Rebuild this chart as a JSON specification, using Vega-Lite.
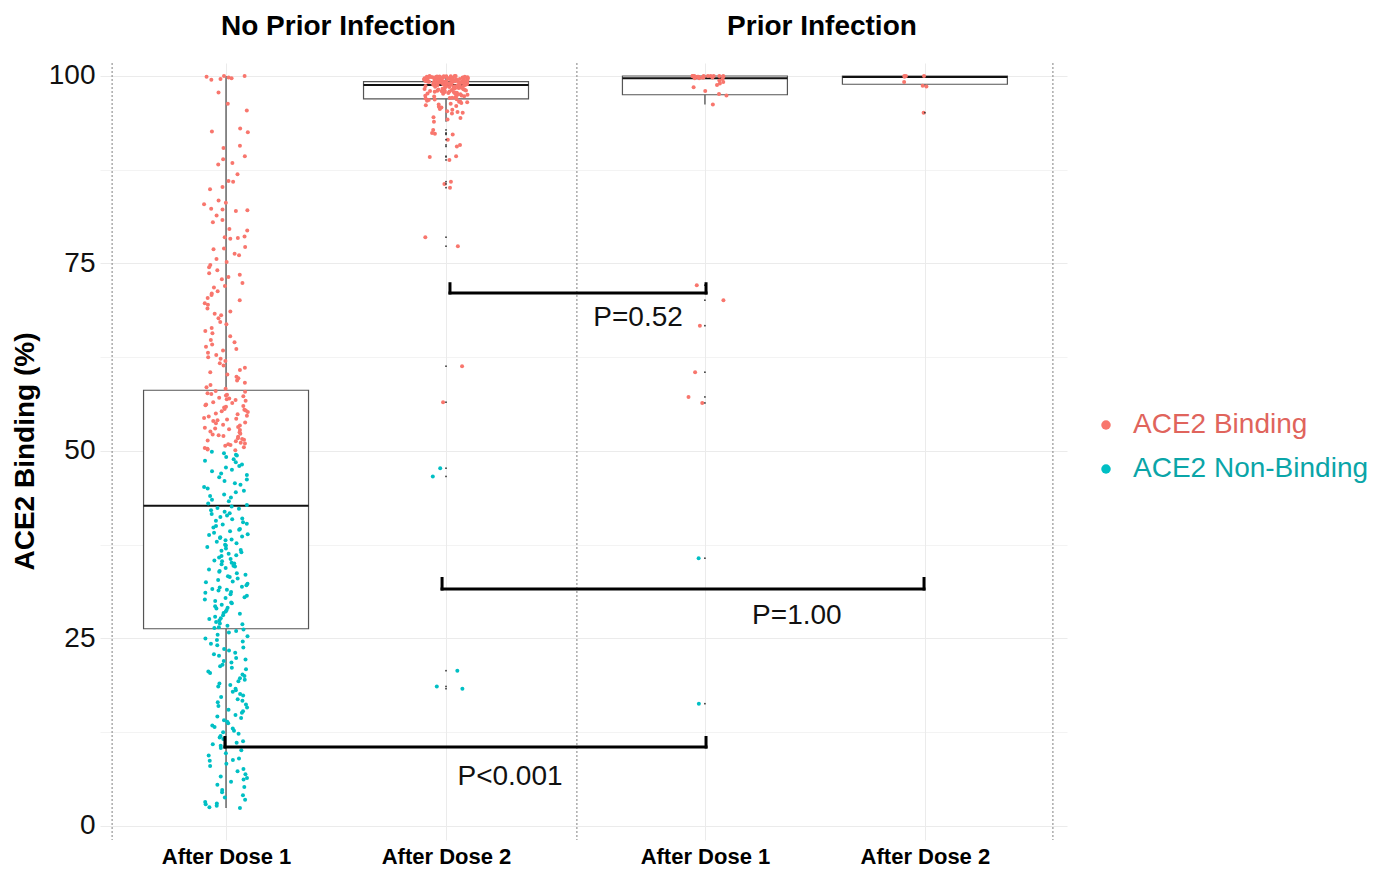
{
  "$schema": "https://vega.github.io/schema/vega-lite/v6.json",
  "width": 967,
  "height": 777,
  "autosize": {"type": "none"},
  "padding": {"left": 100, "top": 63, "right": 323, "bottom": 32},
  "config": {"view": {"stroke": null}, "font": "Liberation Sans"},
  "datasets": {
    "boxes": [
      {"group": "NPI1", "q1": 26.3, "med": 42.7, "q3": 58.1, "lo": 2.4, "hi": 100},
      {"group": "NPI2", "q1": 96.95, "med": 98.8, "q3": 99.25, "lo": 93.9, "hi": 100},
      {"group": "PI1", "q1": 97.5, "med": 99.7, "q3": 100, "lo": 96.2, "hi": 100},
      {"group": "PI2", "q1": 98.9, "med": 99.85, "q3": 100, "lo": 98.6, "hi": 100}
    ],
    "brackets": [
      {"label": "P=0.52", "x1": 2.018, "x2": 3.182, "y": 71.07, "ytop": 72.3, "lx": 2.873, "ly": 66.67},
      {"label": "P=1.00", "x1": 1.982, "x2": 4.173, "y": 31.6, "ytop": 33.0, "lx": 3.595, "ly": 26.93},
      {"label": "P<0.001", "x1": 0.995, "x2": 3.182, "y": 10.53, "ytop": 11.8, "lx": 2.291, "ly": 5.47}
    ],
    "points": [
      {"group":"NPI1","pct":100},{"group":"NPI1","pct":99.9},{"group":"NPI1","pct":99.8},{"group":"NPI1","pct":99.6},{"group":"NPI1","pct":100},{"group":"NPI1","pct":99.7},{"group":"NPI1","pct":99.5},
      {"group":"NPI1","pct":97.8},{"group":"NPI1","pct":96.3},{"group":"NPI1","pct":95.4},{"group":"NPI1","pct":93.0},{"group":"NPI1","pct":92.6},{"group":"NPI1","pct":92.5},{"group":"NPI1","pct":90.7},{"group":"NPI1","pct":90.4},{"group":"NPI1","pct":89.3},{"group":"NPI1","pct":88.9},
      {"group":"NPI1","pct":88.4},{"group":"NPI1","pct":88.2},{"group":"NPI1","pct":86.9},{"group":"NPI1","pct":86.0},{"group":"NPI1","pct":85.9},{"group":"NPI1","pct":85.2},{"group":"NPI1","pct":84.9},{"group":"NPI1","pct":83.4},{"group":"NPI1","pct":83.1},{"group":"NPI1","pct":82.9},
      {"group":"NPI1","pct":82.3},{"group":"NPI1","pct":82.2},{"group":"NPI1","pct":82.1},{"group":"NPI1","pct":82.0},{"group":"NPI1","pct":81.4},{"group":"NPI1","pct":80.8},{"group":"NPI1","pct":80.5},{"group":"NPI1","pct":79.6},{"group":"NPI1","pct":79.4},{"group":"NPI1","pct":78.6},
      {"group":"NPI1","pct":78.5},{"group":"NPI1","pct":78.4},{"group":"NPI1","pct":78.3},{"group":"NPI1","pct":77.2},{"group":"NPI1","pct":77.0},{"group":"NPI1","pct":76.9},{"group":"NPI1","pct":76.3},{"group":"NPI1","pct":76.1},{"group":"NPI1","pct":75.6},{"group":"NPI1","pct":75.2},
      {"group":"NPI1","pct":74.8},{"group":"NPI1","pct":74.5},{"group":"NPI1","pct":74.1},{"group":"NPI1","pct":73.7},{"group":"NPI1","pct":73.5},{"group":"NPI1","pct":73.2},{"group":"NPI1","pct":72.9},{"group":"NPI1","pct":72.4},{"group":"NPI1","pct":72.0},{"group":"NPI1","pct":71.8},
      {"group":"NPI1","pct":71.3},{"group":"NPI1","pct":71.0},{"group":"NPI1","pct":70.8},{"group":"NPI1","pct":70.4},{"group":"NPI1","pct":70.1},{"group":"NPI1","pct":69.7},{"group":"NPI1","pct":69.5},{"group":"NPI1","pct":69.0},{"group":"NPI1","pct":68.6},{"group":"NPI1","pct":68.3},
      {"group":"NPI1","pct":68.1},{"group":"NPI1","pct":67.7},{"group":"NPI1","pct":67.2},{"group":"NPI1","pct":66.9},{"group":"NPI1","pct":66.4},{"group":"NPI1","pct":66.0},{"group":"NPI1","pct":65.7},{"group":"NPI1","pct":65.3},{"group":"NPI1","pct":64.8},{"group":"NPI1","pct":64.5},
      {"group":"NPI1","pct":64.2},{"group":"NPI1","pct":63.9},{"group":"NPI1","pct":63.6},{"group":"NPI1","pct":63.4},{"group":"NPI1","pct":63.1},{"group":"NPI1","pct":62.8},{"group":"NPI1","pct":62.5},{"group":"NPI1","pct":62.3},{"group":"NPI1","pct":62.0},{"group":"NPI1","pct":61.7},
      {"group":"NPI1","pct":61.4},{"group":"NPI1","pct":61.1},{"group":"NPI1","pct":60.8},{"group":"NPI1","pct":60.5},{"group":"NPI1","pct":60.2},{"group":"NPI1","pct":59.9},{"group":"NPI1","pct":59.7},{"group":"NPI1","pct":59.4},{"group":"NPI1","pct":59.1},{"group":"NPI1","pct":58.8},
      {"group":"NPI1","pct":58.5},{"group":"NPI1","pct":58.3},
      {"group":"NPI1","pct":58.0},{"group":"NPI1","pct":57.9},{"group":"NPI1","pct":57.7},{"group":"NPI1","pct":57.6},{"group":"NPI1","pct":57.4},{"group":"NPI1","pct":57.3},{"group":"NPI1","pct":57.1},{"group":"NPI1","pct":57.0},{"group":"NPI1","pct":56.8},{"group":"NPI1","pct":56.7},
      {"group":"NPI1","pct":56.5},{"group":"NPI1","pct":56.4},{"group":"NPI1","pct":56.2},{"group":"NPI1","pct":56.1},{"group":"NPI1","pct":55.9},{"group":"NPI1","pct":55.8},{"group":"NPI1","pct":55.6},{"group":"NPI1","pct":55.5},{"group":"NPI1","pct":55.3},{"group":"NPI1","pct":55.2},
      {"group":"NPI1","pct":55.0},{"group":"NPI1","pct":54.9},{"group":"NPI1","pct":54.7},{"group":"NPI1","pct":54.6},{"group":"NPI1","pct":54.4},{"group":"NPI1","pct":54.3},{"group":"NPI1","pct":54.1},{"group":"NPI1","pct":54.0},{"group":"NPI1","pct":53.8},{"group":"NPI1","pct":53.7},
      {"group":"NPI1","pct":53.5},{"group":"NPI1","pct":53.4},{"group":"NPI1","pct":53.2},{"group":"NPI1","pct":53.1},{"group":"NPI1","pct":52.9},{"group":"NPI1","pct":52.8},{"group":"NPI1","pct":52.6},{"group":"NPI1","pct":52.5},{"group":"NPI1","pct":52.3},{"group":"NPI1","pct":52.2},
      {"group":"NPI1","pct":52.0},{"group":"NPI1","pct":51.9},{"group":"NPI1","pct":51.7},{"group":"NPI1","pct":51.6},{"group":"NPI1","pct":51.4},{"group":"NPI1","pct":51.3},{"group":"NPI1","pct":51.1},{"group":"NPI1","pct":51.0},{"group":"NPI1","pct":50.8},{"group":"NPI1","pct":50.7},
      {"group":"NPI1","pct":50.5},{"group":"NPI1","pct":50.4},{"group":"NPI1","pct":50.2},{"group":"NPI1","pct":50.1},{"group":"NPI1","pct":57.5},{"group":"NPI1","pct":56.0},{"group":"NPI1","pct":55.4},{"group":"NPI1","pct":54.2},{"group":"NPI1","pct":53.0},{"group":"NPI1","pct":52.1},
      {"group":"NPI1","pct":51.5},{"group":"NPI1","pct":50.9},{"group":"NPI1","pct":50.3},{"group":"NPI1","pct":56.9},
      {"group":"NPI1","pct":49.9},{"group":"NPI1","pct":49.7},{"group":"NPI1","pct":49.5},{"group":"NPI1","pct":49.4},{"group":"NPI1","pct":49.2},{"group":"NPI1","pct":48.9},{"group":"NPI1","pct":48.7},{"group":"NPI1","pct":48.5},{"group":"NPI1","pct":48.2},{"group":"NPI1","pct":48.0},
      {"group":"NPI1","pct":47.8},{"group":"NPI1","pct":47.5},{"group":"NPI1","pct":47.3},{"group":"NPI1","pct":47.0},{"group":"NPI1","pct":46.8},{"group":"NPI1","pct":46.5},{"group":"NPI1","pct":46.2},{"group":"NPI1","pct":46.0},{"group":"NPI1","pct":45.7},{"group":"NPI1","pct":45.5},
      {"group":"NPI1","pct":45.2},{"group":"NPI1","pct":45.0},{"group":"NPI1","pct":44.7},{"group":"NPI1","pct":44.5},{"group":"NPI1","pct":44.2},{"group":"NPI1","pct":44.0},{"group":"NPI1","pct":43.8},{"group":"NPI1","pct":43.5},{"group":"NPI1","pct":43.3},{"group":"NPI1","pct":43.0},
      {"group":"NPI1","pct":42.8},
      {"group":"NPI1","pct":42.6},{"group":"NPI1","pct":42.4},{"group":"NPI1","pct":42.3},{"group":"NPI1","pct":42.1},{"group":"NPI1","pct":41.9},{"group":"NPI1","pct":41.7},{"group":"NPI1","pct":41.6},{"group":"NPI1","pct":41.4},{"group":"NPI1","pct":41.2},{"group":"NPI1","pct":41.0},
      {"group":"NPI1","pct":40.9},{"group":"NPI1","pct":40.7},{"group":"NPI1","pct":40.5},{"group":"NPI1","pct":40.3},{"group":"NPI1","pct":40.2},{"group":"NPI1","pct":40.0},{"group":"NPI1","pct":39.8},{"group":"NPI1","pct":39.6},{"group":"NPI1","pct":39.5},{"group":"NPI1","pct":39.3},
      {"group":"NPI1","pct":39.1},{"group":"NPI1","pct":38.9},{"group":"NPI1","pct":38.8},{"group":"NPI1","pct":38.6},{"group":"NPI1","pct":38.4},{"group":"NPI1","pct":38.2},{"group":"NPI1","pct":38.1},{"group":"NPI1","pct":37.9},{"group":"NPI1","pct":37.7},{"group":"NPI1","pct":37.5},
      {"group":"NPI1","pct":37.4},{"group":"NPI1","pct":37.2},{"group":"NPI1","pct":37.0},{"group":"NPI1","pct":36.8},{"group":"NPI1","pct":36.7},{"group":"NPI1","pct":36.5},{"group":"NPI1","pct":36.3},{"group":"NPI1","pct":36.1},{"group":"NPI1","pct":36.0},{"group":"NPI1","pct":35.8},
      {"group":"NPI1","pct":35.6},{"group":"NPI1","pct":35.4},{"group":"NPI1","pct":35.3},{"group":"NPI1","pct":35.1},{"group":"NPI1","pct":34.9},{"group":"NPI1","pct":34.7},{"group":"NPI1","pct":34.6},{"group":"NPI1","pct":34.4},{"group":"NPI1","pct":34.2},{"group":"NPI1","pct":34.0},
      {"group":"NPI1","pct":33.9},{"group":"NPI1","pct":33.7},{"group":"NPI1","pct":33.5},{"group":"NPI1","pct":33.3},{"group":"NPI1","pct":33.2},{"group":"NPI1","pct":33.0},{"group":"NPI1","pct":32.8},{"group":"NPI1","pct":32.6},{"group":"NPI1","pct":32.5},{"group":"NPI1","pct":32.3},
      {"group":"NPI1","pct":32.1},{"group":"NPI1","pct":31.9},{"group":"NPI1","pct":31.8},{"group":"NPI1","pct":31.6},{"group":"NPI1","pct":31.4},{"group":"NPI1","pct":31.2},{"group":"NPI1","pct":31.1},{"group":"NPI1","pct":30.9},{"group":"NPI1","pct":30.7},{"group":"NPI1","pct":30.5},
      {"group":"NPI1","pct":30.4},{"group":"NPI1","pct":30.2},{"group":"NPI1","pct":30.0},{"group":"NPI1","pct":29.8},{"group":"NPI1","pct":29.7},{"group":"NPI1","pct":29.5},{"group":"NPI1","pct":29.3},{"group":"NPI1","pct":29.1},{"group":"NPI1","pct":29.0},{"group":"NPI1","pct":28.8},
      {"group":"NPI1","pct":28.6},{"group":"NPI1","pct":28.4},{"group":"NPI1","pct":28.3},{"group":"NPI1","pct":28.1},{"group":"NPI1","pct":27.9},{"group":"NPI1","pct":27.7},{"group":"NPI1","pct":27.6},{"group":"NPI1","pct":27.4},{"group":"NPI1","pct":27.2},{"group":"NPI1","pct":27.0},
      {"group":"NPI1","pct":26.9},{"group":"NPI1","pct":26.7},{"group":"NPI1","pct":26.5},{"group":"NPI1","pct":26.4},{"group":"NPI1","pct":38.5},{"group":"NPI1","pct":35.0},{"group":"NPI1","pct":31.5},
      {"group":"NPI1","pct":26.2},{"group":"NPI1","pct":26.0},{"group":"NPI1","pct":25.8},{"group":"NPI1","pct":25.5},{"group":"NPI1","pct":25.3},{"group":"NPI1","pct":25.0},{"group":"NPI1","pct":24.8},{"group":"NPI1","pct":24.6},{"group":"NPI1","pct":24.3},{"group":"NPI1","pct":24.1},
      {"group":"NPI1","pct":23.8},{"group":"NPI1","pct":23.6},{"group":"NPI1","pct":23.4},{"group":"NPI1","pct":23.1},{"group":"NPI1","pct":22.9},{"group":"NPI1","pct":22.7},{"group":"NPI1","pct":22.4},{"group":"NPI1","pct":22.2},{"group":"NPI1","pct":22.0},{"group":"NPI1","pct":21.8},
      {"group":"NPI1","pct":21.5},{"group":"NPI1","pct":21.3},{"group":"NPI1","pct":21.1},{"group":"NPI1","pct":20.9},{"group":"NPI1","pct":20.6},{"group":"NPI1","pct":20.4},{"group":"NPI1","pct":20.2},{"group":"NPI1","pct":20.0},{"group":"NPI1","pct":19.7},{"group":"NPI1","pct":19.5},
      {"group":"NPI1","pct":19.3},{"group":"NPI1","pct":19.0},{"group":"NPI1","pct":18.8},{"group":"NPI1","pct":18.6},{"group":"NPI1","pct":18.3},{"group":"NPI1","pct":18.1},{"group":"NPI1","pct":17.9},{"group":"NPI1","pct":17.6},{"group":"NPI1","pct":17.4},{"group":"NPI1","pct":17.2},
      {"group":"NPI1","pct":16.9},{"group":"NPI1","pct":16.7},{"group":"NPI1","pct":16.5},{"group":"NPI1","pct":16.2},{"group":"NPI1","pct":16.0},{"group":"NPI1","pct":15.8},{"group":"NPI1","pct":15.5},{"group":"NPI1","pct":15.3},{"group":"NPI1","pct":15.1},{"group":"NPI1","pct":14.8},
      {"group":"NPI1","pct":14.6},{"group":"NPI1","pct":14.4},{"group":"NPI1","pct":14.1},{"group":"NPI1","pct":13.9},{"group":"NPI1","pct":13.7},{"group":"NPI1","pct":13.4},{"group":"NPI1","pct":13.2},{"group":"NPI1","pct":13.0},{"group":"NPI1","pct":12.7},{"group":"NPI1","pct":12.5},
      {"group":"NPI1","pct":12.3},{"group":"NPI1","pct":12.0},{"group":"NPI1","pct":11.8},{"group":"NPI1","pct":11.6},{"group":"NPI1","pct":11.3},{"group":"NPI1","pct":11.1},{"group":"NPI1","pct":10.9},{"group":"NPI1","pct":10.7},{"group":"NPI1","pct":10.4},{"group":"NPI1","pct":10.1},
      {"group":"NPI1","pct":9.7},{"group":"NPI1","pct":9.4},{"group":"NPI1","pct":9.0},{"group":"NPI1","pct":8.7},{"group":"NPI1","pct":8.3},{"group":"NPI1","pct":8.0},{"group":"NPI1","pct":7.6},{"group":"NPI1","pct":7.3},{"group":"NPI1","pct":6.9},{"group":"NPI1","pct":6.6},
      {"group":"NPI1","pct":6.2},{"group":"NPI1","pct":5.9},{"group":"NPI1","pct":5.5},{"group":"NPI1","pct":5.2},{"group":"NPI1","pct":4.8},{"group":"NPI1","pct":4.5},{"group":"NPI1","pct":4.1},{"group":"NPI1","pct":3.8},{"group":"NPI1","pct":3.5},{"group":"NPI1","pct":3.2},
      {"group":"NPI1","pct":2.9},{"group":"NPI1","pct":2.7},{"group":"NPI1","pct":2.5},{"group":"NPI1","pct":2.4},{"group":"NPI1","pct":3.0},{"group":"NPI1","pct":6.4},{"group":"NPI1","pct":8.8},

      {"group":"NPI2","pct":94.4},{"group":"NPI2","pct":94.2},{"group":"NPI2","pct":94.5},{"group":"NPI2","pct":93.9},{"group":"NPI2","pct":92.8},{"group":"NPI2","pct":92.3},{"group":"NPI2","pct":92.4},{"group":"NPI2","pct":92.2},{"group":"NPI2","pct":91.5},{"group":"NPI2","pct":90.8},
      {"group":"NPI2","pct":90.6},{"group":"NPI2","pct":89.2},{"group":"NPI2","pct":89.3},{"group":"NPI2","pct":88.8},{"group":"NPI2","pct":85.9},{"group":"NPI2","pct":85.6},{"group":"NPI2","pct":85.1},{"group":"NPI2","pct":78.5},{"group":"NPI2","pct":77.3},{"group":"NPI2","pct":61.3},
      {"group":"NPI2","pct":56.5},{"group":"NPI2","pct":47.7},{"group":"NPI2","pct":46.6},{"group":"NPI2","pct":20.7},{"group":"NPI2","pct":18.3},{"group":"NPI2","pct":18.6},
      {"group":"NPI2","pct":95.0},{"group":"NPI2","pct":95.1},{"group":"NPI2","pct":95.2},{"group":"NPI2","pct":95.3},{"group":"NPI2","pct":95.5},{"group":"NPI2","pct":95.6},{"group":"NPI2","pct":95.8},{"group":"NPI2","pct":95.9},{"group":"NPI2","pct":96.0},{"group":"NPI2","pct":96.1},
      {"group":"NPI2","pct":96.2},{"group":"NPI2","pct":96.3},{"group":"NPI2","pct":96.4},{"group":"NPI2","pct":96.5},{"group":"NPI2","pct":96.55},{"group":"NPI2","pct":96.6},{"group":"NPI2","pct":96.7},{"group":"NPI2","pct":96.8},{"group":"NPI2","pct":96.85},{"group":"NPI2","pct":96.9},
      {"group":"NPI2","pct":97.0},{"group":"NPI2","pct":97.05},
      {"group":"NPI2","pct":97.1},{"group":"NPI2","pct":97.15},{"group":"NPI2","pct":97.2},{"group":"NPI2","pct":97.25},{"group":"NPI2","pct":97.3},{"group":"NPI2","pct":97.35},{"group":"NPI2","pct":97.4},{"group":"NPI2","pct":97.45},{"group":"NPI2","pct":97.5},{"group":"NPI2","pct":97.55},
      {"group":"NPI2","pct":97.6},{"group":"NPI2","pct":97.63},{"group":"NPI2","pct":97.66},{"group":"NPI2","pct":97.7},{"group":"NPI2","pct":97.74},{"group":"NPI2","pct":97.78},{"group":"NPI2","pct":97.8},{"group":"NPI2","pct":97.84},{"group":"NPI2","pct":97.88},{"group":"NPI2","pct":97.9},
      {"group":"NPI2","pct":97.93},{"group":"NPI2","pct":97.96},{"group":"NPI2","pct":98.0},{"group":"NPI2","pct":98.03},{"group":"NPI2","pct":98.06},{"group":"NPI2","pct":98.1},{"group":"NPI2","pct":98.13},{"group":"NPI2","pct":98.16},{"group":"NPI2","pct":98.2},{"group":"NPI2","pct":98.23},
      {"group":"NPI2","pct":98.26},{"group":"NPI2","pct":98.3},{"group":"NPI2","pct":98.33},{"group":"NPI2","pct":98.36},{"group":"NPI2","pct":98.4},{"group":"NPI2","pct":98.43},{"group":"NPI2","pct":98.46},{"group":"NPI2","pct":98.5},{"group":"NPI2","pct":98.52},{"group":"NPI2","pct":98.54},
      {"group":"NPI2","pct":98.56},{"group":"NPI2","pct":98.58},{"group":"NPI2","pct":98.6},{"group":"NPI2","pct":98.62},{"group":"NPI2","pct":98.64},{"group":"NPI2","pct":98.66},{"group":"NPI2","pct":98.68},{"group":"NPI2","pct":98.7},
      {"group":"NPI2","pct":98.72},{"group":"NPI2","pct":98.74},{"group":"NPI2","pct":98.76},{"group":"NPI2","pct":98.78},{"group":"NPI2","pct":98.8},{"group":"NPI2","pct":98.81},{"group":"NPI2","pct":98.83},{"group":"NPI2","pct":98.85},{"group":"NPI2","pct":98.86},{"group":"NPI2","pct":98.88},
      {"group":"NPI2","pct":98.9},{"group":"NPI2","pct":98.91},{"group":"NPI2","pct":98.93},{"group":"NPI2","pct":98.95},{"group":"NPI2","pct":98.96},{"group":"NPI2","pct":98.98},{"group":"NPI2","pct":99.0},{"group":"NPI2","pct":99.01},{"group":"NPI2","pct":99.03},{"group":"NPI2","pct":99.05},
      {"group":"NPI2","pct":99.06},{"group":"NPI2","pct":99.08},{"group":"NPI2","pct":99.1},{"group":"NPI2","pct":99.11},{"group":"NPI2","pct":99.12},{"group":"NPI2","pct":99.14},{"group":"NPI2","pct":99.15},{"group":"NPI2","pct":99.16},{"group":"NPI2","pct":99.18},{"group":"NPI2","pct":99.19},
      {"group":"NPI2","pct":99.2},{"group":"NPI2","pct":99.21},{"group":"NPI2","pct":99.22},{"group":"NPI2","pct":99.23},{"group":"NPI2","pct":99.24},{"group":"NPI2","pct":99.25},{"group":"NPI2","pct":99.26},{"group":"NPI2","pct":99.27},{"group":"NPI2","pct":99.28},{"group":"NPI2","pct":99.29},
      {"group":"NPI2","pct":99.3},{"group":"NPI2","pct":99.3},{"group":"NPI2","pct":99.31},{"group":"NPI2","pct":99.32},{"group":"NPI2","pct":99.33},{"group":"NPI2","pct":99.34},{"group":"NPI2","pct":99.35},
      {"group":"NPI2","pct":99.36},{"group":"NPI2","pct":99.38},{"group":"NPI2","pct":99.4},{"group":"NPI2","pct":99.42},{"group":"NPI2","pct":99.44},{"group":"NPI2","pct":99.45},{"group":"NPI2","pct":99.47},{"group":"NPI2","pct":99.48},{"group":"NPI2","pct":99.5},{"group":"NPI2","pct":99.51},
      {"group":"NPI2","pct":99.53},{"group":"NPI2","pct":99.54},{"group":"NPI2","pct":99.55},{"group":"NPI2","pct":99.57},{"group":"NPI2","pct":99.58},{"group":"NPI2","pct":99.6},{"group":"NPI2","pct":99.61},{"group":"NPI2","pct":99.62},{"group":"NPI2","pct":99.64},{"group":"NPI2","pct":99.65},
      {"group":"NPI2","pct":99.66},{"group":"NPI2","pct":99.68},{"group":"NPI2","pct":99.69},{"group":"NPI2","pct":99.7},{"group":"NPI2","pct":99.71},{"group":"NPI2","pct":99.72},{"group":"NPI2","pct":99.74},{"group":"NPI2","pct":99.75},{"group":"NPI2","pct":99.76},{"group":"NPI2","pct":99.78},
      {"group":"NPI2","pct":99.79},{"group":"NPI2","pct":99.8},{"group":"NPI2","pct":99.81},{"group":"NPI2","pct":99.83},{"group":"NPI2","pct":99.84},{"group":"NPI2","pct":99.85},{"group":"NPI2","pct":99.87},{"group":"NPI2","pct":99.88},{"group":"NPI2","pct":99.9},{"group":"NPI2","pct":99.91},
      {"group":"NPI2","pct":99.92},{"group":"NPI2","pct":99.94},{"group":"NPI2","pct":99.95},{"group":"NPI2","pct":99.96},{"group":"NPI2","pct":99.98},{"group":"NPI2","pct":99.99},{"group":"NPI2","pct":100},{"group":"NPI2","pct":100},

      {"group":"PI1","pct":16.3},{"group":"PI1","pct":35.7},{"group":"PI1","pct":56.4},{"group":"PI1","pct":57.2},{"group":"PI1","pct":60.5},{"group":"PI1","pct":66.7},{"group":"PI1","pct":70.1},{"group":"PI1","pct":72.1},{"group":"PI1","pct":96.2},{"group":"PI1","pct":97.4},
      {"group":"PI1","pct":97.6},{"group":"PI1","pct":98.0},{"group":"PI1","pct":98.5},{"group":"PI1","pct":98.8},{"group":"PI1","pct":99.0},{"group":"PI1","pct":99.2},{"group":"PI1","pct":99.4},{"group":"PI1","pct":99.6},{"group":"PI1","pct":99.7},{"group":"PI1","pct":99.7},
      {"group":"PI1","pct":99.8},{"group":"PI1","pct":99.8},{"group":"PI1","pct":99.8},{"group":"PI1","pct":99.9},{"group":"PI1","pct":99.9},{"group":"PI1","pct":99.9},{"group":"PI1","pct":99.9},{"group":"PI1","pct":100},{"group":"PI1","pct":100},{"group":"PI1","pct":100},
      {"group":"PI1","pct":100},{"group":"PI1","pct":100},{"group":"PI1","pct":100},{"group":"PI1","pct":100},{"group":"PI1","pct":100},{"group":"PI1","pct":100},

      {"group":"PI2","pct":95.1},{"group":"PI2","pct":98.6},{"group":"PI2","pct":98.7},{"group":"PI2","pct":99.2},{"group":"PI2","pct":99.9},{"group":"PI2","pct":100},{"group":"PI2","pct":100},{"group":"PI2","pct":100}
    ]
  },
  "layer": [
    {
      "data": {"name": "boxes"},
      "transform": [
        {"calculate": "datum.group === 'NPI1' ? 1 : datum.group === 'NPI2' ? 2 : datum.group === 'PI1' ? 3.177 : 4.177", "as": "pos"},
        {"calculate": "datum.pos - 0.375", "as": "xl"},
        {"calculate": "datum.pos + 0.375", "as": "xr"}
      ],
      "mark": {"type": "rect", "fill": "white", "stroke": "#555555", "strokeWidth": 1.2},
      "encoding": {
        "x": {
          "field": "xl", "type": "quantitative",
          "scale": {"domain": [0.427, 4.823], "nice": false, "zero": false},
          "axis": {
            "values": [1, 2, 3.177, 4.177],
            "labelExpr": "(datum.value < 1.5 || (datum.value > 2.5 && datum.value < 3.5)) ? 'After Dose 1' : 'After Dose 2'",
            "grid": true, "gridColor": "#EBEBEB", "gridWidth": 1,
            "ticks": false, "domain": false,
            "labelFontSize": 22, "labelFontWeight": "bold", "labelColor": "#000000",
            "labelPadding": 6, "labelOverlap": false, "labelFlush": false,
            "title": null
          }
        },
        "x2": {"field": "xr"},
        "y": {
          "field": "q1", "type": "quantitative",
          "scale": {"domain": [-1.87, 101.73], "nice": false, "zero": false},
          "axis": {
            "values": [0, 12.5, 25, 37.5, 50, 62.5, 75, 87.5, 100],
            "labelExpr": "datum.value % 25 === 0 ? datum.label : ''",
            "grid": true, "gridColor": "#EBEBEB",
            "gridWidth": {"condition": {"test": "datum.value % 25 === 0", "value": 1.1}, "value": 0.6},
            "ticks": false, "domain": false,
            "labelFontSize": 28, "labelColor": "#111111", "labelPadding": 5,
            "title": "ACE2 Binding (%)", "titleFontSize": 28, "titleFontWeight": "bold", "titleColor": "#000000",
            "titleX": -75, "titleY": 388, "titleAngle": -90, "titleAlign": "center", "titleBaseline": "middle"
          }
        },
        "y2": {"field": "q3"}
      }
    },
    {
      "data": {"name": "boxes"},
      "transform": [
        {"calculate": "datum.group === 'NPI1' ? 1 : datum.group === 'NPI2' ? 2 : datum.group === 'PI1' ? 3.177 : 4.177", "as": "pos"}
      ],
      "mark": {"type": "rule", "stroke": "#666666", "strokeWidth": 1.5},
      "encoding": {
        "x": {"field": "pos", "type": "quantitative"},
        "y": {"field": "q3", "type": "quantitative"},
        "y2": {"field": "hi"}
      }
    },
    {
      "data": {"name": "boxes"},
      "transform": [
        {"calculate": "datum.group === 'NPI1' ? 1 : datum.group === 'NPI2' ? 2 : datum.group === 'PI1' ? 3.177 : 4.177", "as": "pos"}
      ],
      "mark": {"type": "rule", "stroke": "#666666", "strokeWidth": 1.5},
      "encoding": {
        "x": {"field": "pos", "type": "quantitative"},
        "y": {"field": "lo", "type": "quantitative"},
        "y2": {"field": "q1"}
      }
    },
    {
      "data": {"name": "boxes"},
      "transform": [
        {"calculate": "datum.group === 'NPI1' ? 1 : datum.group === 'NPI2' ? 2 : datum.group === 'PI1' ? 3.177 : 4.177", "as": "pos"},
        {"calculate": "datum.pos - 0.375", "as": "xl"},
        {"calculate": "datum.pos + 0.375", "as": "xr"}
      ],
      "mark": {"type": "rule", "stroke": "#111111", "strokeWidth": 2},
      "encoding": {
        "x": {"field": "xl", "type": "quantitative"},
        "x2": {"field": "xr"},
        "y": {"field": "med", "type": "quantitative"}
      }
    },
    {
      "data": {"name": "points"},
      "transform": [
        {"window": [{"op": "row_number", "as": "rn"}]},
        {"calculate": "datum.group === 'NPI1' ? 1 : datum.group === 'NPI2' ? 2 : datum.group === 'PI1' ? 3.177 : 4.177", "as": "pos"},
        {"calculate": "sin(datum.rn * 12.9898) * 43758.5453", "as": "h"},
        {"calculate": "datum.pos + (datum.h - floor(datum.h) - 0.5) * 0.2", "as": "xj"},
        {"calculate": "datum.pct >= 50 ? 'ACE2 Binding' : 'ACE2 Non-Binding'", "as": "binding"}
      ],
      "mark": {"type": "circle", "size": 16, "opacity": 1},
      "encoding": {
        "x": {"field": "xj", "type": "quantitative"},
        "y": {"field": "pct", "type": "quantitative"},
        "color": {
          "field": "binding", "type": "nominal",
          "scale": {"domain": ["ACE2 Binding", "ACE2 Non-Binding"], "range": ["#F8766D", "#00BFC4"]},
          "legend": {
            "title": null, "orient": "none", "legendX": 992, "legendY": 348,
            "labelFontSize": 28, "labelOffset": 13, "labelLimit": 500, "rowPadding": 16, "padding": 0,
            "symbolType": "circle", "symbolSize": 90, "symbolStrokeWidth": 0, "symbolOpacity": 1,
            "encode": {"labels": {"update": {"fill": {"signal": "datum.label === 'ACE2 Binding' ? '#E0645C' : '#0AA5A8'"}}}}
          }
        }
      }
    },
    {
      "data": {"name": "points"},
      "transform": [
        {"lookup": "group", "from": {"data": {"name": "boxes"}, "key": "group", "fields": ["lo"]}},
        {"filter": "datum.pct < datum.lo"},
        {"calculate": "datum.group === 'NPI1' ? 1 : datum.group === 'NPI2' ? 2 : datum.group === 'PI1' ? 3.177 : 4.177", "as": "pos"}
      ],
      "mark": {"type": "circle", "size": 3, "color": "#333333", "opacity": 1},
      "encoding": {
        "x": {"field": "pos", "type": "quantitative"},
        "y": {"field": "pct", "type": "quantitative"}
      }
    },
    {
      "data": {"values": [{"vx": 0.482}, {"vx": 2.595}, {"vx": 4.759}]},
      "mark": {"type": "rule", "stroke": "#808080", "strokeWidth": 1, "strokeDash": [2, 2]},
      "encoding": {
        "x": {"field": "vx", "type": "quantitative"}
      }
    },
    {
      "data": {"name": "brackets"},
      "mark": {"type": "rule", "stroke": "#000000", "strokeWidth": 3, "strokeCap": "square"},
      "encoding": {
        "x": {"field": "x1", "type": "quantitative"},
        "x2": {"field": "x2"},
        "y": {"field": "y", "type": "quantitative"}
      }
    },
    {
      "data": {"name": "brackets"},
      "mark": {"type": "rule", "stroke": "#000000", "strokeWidth": 3, "strokeCap": "square"},
      "encoding": {
        "x": {"field": "x1", "type": "quantitative"},
        "y": {"field": "y", "type": "quantitative"},
        "y2": {"field": "ytop"}
      }
    },
    {
      "data": {"name": "brackets"},
      "mark": {"type": "rule", "stroke": "#000000", "strokeWidth": 3, "strokeCap": "square"},
      "encoding": {
        "x": {"field": "x2", "type": "quantitative"},
        "y": {"field": "y", "type": "quantitative"},
        "y2": {"field": "ytop"}
      }
    },
    {
      "data": {"name": "brackets"},
      "mark": {"type": "text", "fontSize": 28, "color": "#111111", "align": "center", "baseline": "alphabetic"},
      "encoding": {
        "x": {"field": "lx", "type": "quantitative"},
        "y": {"field": "ly", "type": "quantitative"},
        "text": {"field": "label"}
      }
    },
    {
      "data": {"values": [{"panel": "No Prior Infection", "cx": 1.511}, {"panel": "Prior Infection", "cx": 3.709}]},
      "mark": {"type": "text", "fontSize": 28, "fontWeight": "bold", "color": "#000000", "align": "center", "baseline": "alphabetic"},
      "encoding": {
        "x": {"field": "cx", "type": "quantitative"},
        "y": {"datum": 105.46},
        "text": {"field": "panel"}
      }
    }
  ]
}
